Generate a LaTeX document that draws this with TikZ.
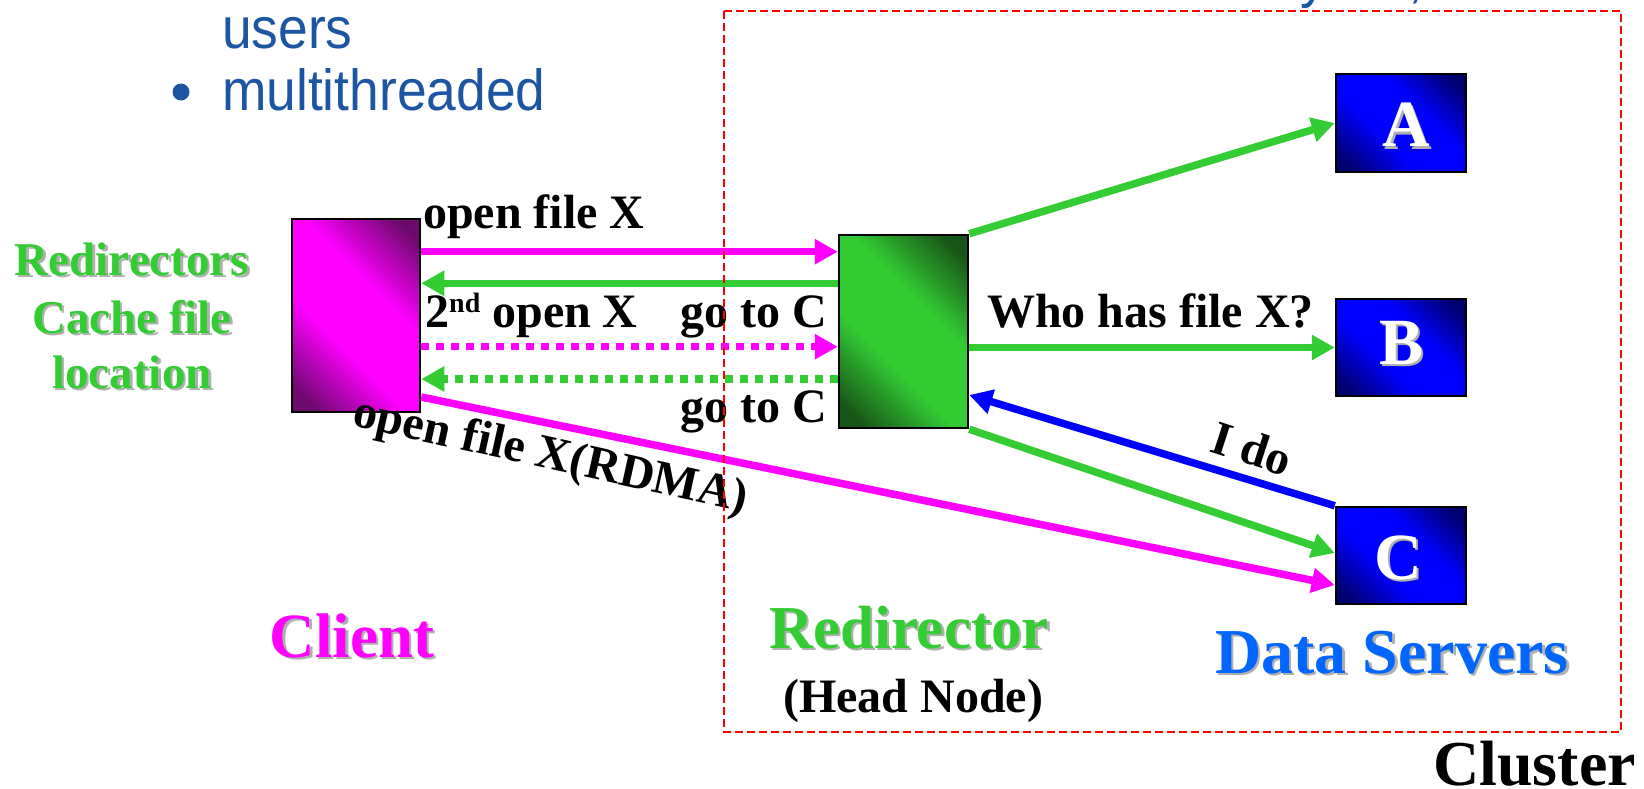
\documentclass[tikz,border=0pt]{standalone}
\usepackage{fontspec}
\setmainfont{Liberation Serif}
\newfontfamily\topfont{Liberation Sans}[FakeStretch=0.92]
\usetikzlibrary{arrows.meta,calc}
\definecolor{mag}{HTML}{FF00FF}
\definecolor{dmag}{HTML}{6E0A6E}
\definecolor{grn}{HTML}{33CC33}
\definecolor{dgrn}{HTML}{175417}
\definecolor{blu}{HTML}{0000FF}
\definecolor{dblu}{HTML}{00006E}
\definecolor{dsblue}{HTML}{0066FF}
\definecolor{topblue}{HTML}{1C55A2}
\definecolor{shgray}{HTML}{B0B0B0}
\pgfdeclarehorizontalshading{magshade}{100bp}{color(0bp)=(dmag); color(20bp)=(dmag); color(40bp)=(mag); color(60bp)=(mag); color(80bp)=(dmag); color(100bp)=(dmag)}
\pgfdeclarehorizontalshading{grnshade}{100bp}{color(0bp)=(dgrn); color(20bp)=(dgrn); color(40bp)=(grn); color(60bp)=(grn); color(80bp)=(dgrn); color(100bp)=(dgrn)}
\pgfdeclarehorizontalshading{blushade}{100bp}{color(0bp)=(dblu); color(20bp)=(dblu); color(40bp)=(blu); color(60bp)=(blu); color(80bp)=(dblu); color(100bp)=(dblu)}
\newcommand\shlabel[4]{%
  \node[#3,text=shgray,shift={(2.5pt,-2.5pt)}] (#1s) at #2 {#4};
  \node[#3] (#1) at #2 {#4};}
\begin{document}
\begin{tikzpicture}[x=1pt,y={(0pt,-1pt)},
  boxc/.style={draw=black, line width=2.5pt, inner sep=0pt, shading angle=45},
  arr/.style={line width=7.5pt, -{Triangle[length=23pt,width=24pt]}},
  magline/.style={draw=mag},
  grnline/.style={draw=grn},
  bluline/.style={draw=blu},
  dotline/.style={dash pattern=on 8pt off 7pt},
  lbl/.style={font=\bfseries\fontsize{48}{56}\selectfont, inner sep=0pt},
  glbl/.style={font=\bfseries\fontsize{47}{56}\selectfont, inner sep=0pt, text=grn, anchor=base},
  big/.style={font=\bfseries\fontsize{63}{70}\selectfont, inner sep=0pt, anchor=base},
  letter/.style={font=\bfseries\fontsize{66}{70}\selectfont, inner sep=0pt, text=white, anchor=center},
  toptxt/.style={font=\topfont\fontsize{58}{64}\selectfont, text=topblue, inner sep=0pt, anchor=base west}]
\useasboundingbox (0,0) rectangle (1644,788);

% top bullet text
\node[toptxt] (users) at (222,48) {users};
\node[toptxt] (multi) at (222,110) {multithreaded};
\node[circle, fill=topblue, inner sep=0pt, minimum size=17pt] (bullet) at (181,92) {};
\node[toptxt] (cuty) at (1300,-4) {y};
\node[toptxt] (cutcomma) at (1408,-4) {,};

% boxes
\node[boxc, shading=magshade, minimum width=128pt, minimum height=193pt] (client) at (356,315.5) {};
\node[boxc, shading=grnshade, minimum width=129pt, minimum height=193pt] (redir) at (903.5,331.5) {};
\node[boxc, shading=blushade, minimum width=130pt, minimum height=98pt] (A) at (1401,123) {};
\node[boxc, shading=blushade, minimum width=130pt, minimum height=97pt] (B) at (1401,347.5) {};
\node[boxc, shading=blushade, minimum width=130pt, minimum height=97pt] (C) at (1401,555.5) {};

\shlabel{Al}{([xshift=5pt,yshift=-2pt]A.center)}{letter}{A}
\shlabel{Bl}{([yshift=5pt]B.center)}{letter}{B}
\shlabel{Cl}{([xshift=-3pt,yshift=-2pt]C.center)}{letter}{C}

% horizontal arrows
\coordinate (y1) at (0,251.7);
\coordinate (y2) at (0,283.3);
\coordinate (y3) at (0,346.7);
\coordinate (y4) at (0,379);
\draw[arr, magline] (client.east |- y1) -- (redir.west |- y1);
\draw[arr, grnline] (redir.west |- y2) -- (client.east |- y2);
\draw[arr, magline, dotline] (client.east |- y3) -- (redir.west |- y3);
\draw[arr, grnline, dotline] (redir.west |- y4) -- (client.east |- y4);

% redirector to servers
\draw[arr, grnline] (redir.north east) -- (A.west);
\draw[arr, grnline] (redir.east |- B.west) -- (B.west);
\draw[arr, grnline] (redir.south east) -- ([yshift=2.5pt]C.west);
\draw[arr, bluline] (C.north west) -- ([yshift=-63.5pt]redir.east);
\draw[arr, magline] ([yshift=-81.5pt]client.east) -- ([yshift=-29.5pt]C.west);

% black labels
\node[lbl, anchor=base west] (l1) at (423,228) {open file X};
\node[lbl, anchor=base west] (l2) at (425,327) {2{\fontsize{28}{28}\selectfont\raisebox{15pt}{nd}} open X};
\node[lbl, anchor=base west] (l3) at (680,327) {go to C};
\node[lbl, anchor=base west] (l4) at (680,422) {go to C};
\node[lbl, anchor=base west] (l5) at (987,327) {Who has file X?};
\node[lbl, anchor=base, rotate=-18] (l6) at (1247,464) {I do};
\node[lbl, anchor=base, rotate=-12.5] (l7) at (548,469) {open file X(RDMA)};
\node[lbl, anchor=base] (l8) at (913,712) {(Head Node)};
\node[lbl, font=\bfseries\fontsize{64}{70}\selectfont, anchor=base west] (cluster) at (1433,785.5) {Cluster};

% shadowed coloured labels
\shlabel{rc1}{(132,275)}{glbl}{Redirectors}
\shlabel{rc2}{(132,333)}{glbl}{Cache file}
\shlabel{rc3}{(132,388)}{glbl}{location}
\shlabel{cl}{(352,657)}{big, text=mag}{Client}
\shlabel{rd}{(909,648)}{big, font=\bfseries\fontsize{61}{70}\selectfont, text=grn}{Redirector}
\shlabel{ds}{(1392,673)}{big, font=\bfseries\fontsize{64}{70}\selectfont, text=dsblue}{Data Servers}

% cluster boundary
\draw[draw=red, line width=2pt, dash pattern=on 8pt off 4pt] (724,11) rectangle (1621,732);
\end{tikzpicture}
\end{document}
